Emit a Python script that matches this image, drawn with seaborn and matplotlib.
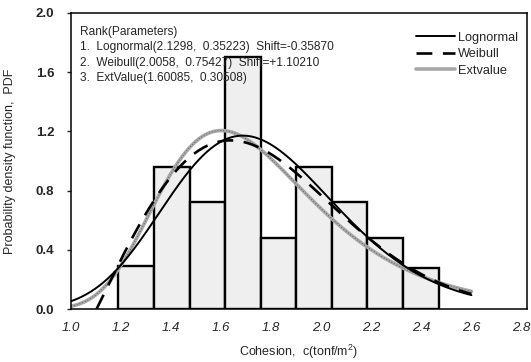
import numpy as np
import seaborn as sns
import matplotlib
matplotlib.use("Agg")
import matplotlib.pyplot as plt

# Histogram of cohesion (bin edges and density heights)
bin_edges = [1.1895, 1.3316, 1.4737, 1.6158, 1.7579, 1.9000, 2.0421, 2.1842, 2.3263, 2.4684]
bar_heights = [0.29, 0.96, 0.72, 1.70, 0.48, 0.96, 0.72, 0.48, 0.28]

# Fitted distribution parameters
logn_mean, logn_std, logn_shift = 2.1298, 0.35223, -0.35870
weib_shape, weib_scale, weib_shift = 2.0058, 0.75427, 1.10210
ev_loc, ev_scale = 1.60085, 0.30508
curve_end = 2.6

x_ticks = [1.0, 1.2, 1.4, 1.6, 1.8, 2.0, 2.2, 2.4, 2.6, 2.8]
y_ticks = [0.0, 0.4, 0.8, 1.2, 1.6, 2.0]

sns.set_style("ticks")
plt.rcParams["font.family"] = ["Liberation Sans", "DejaVu Sans"]
plt.rcParams["mathtext.fontset"] = "custom"
plt.rcParams["mathtext.rm"] = "Liberation Sans"

fig = plt.figure(figsize=(5.31, 3.62), dpi=100)
ax = fig.add_axes([0.1337, 0.1464, 0.8588, 0.8177])

centers = [(a + b) / 2 for a, b in zip(bin_edges[:-1], bin_edges[1:])]
sns.histplot(x=centers, weights=bar_heights, bins=bin_edges, stat="count",
             color="#efefef", edgecolor="black", linewidth=1.7, alpha=1.0, ax=ax)

# Lognormal (shifted)
x_ln = np.linspace(1.0, curve_end, 300)
sig2 = np.log(1 + (logn_std / logn_mean) ** 2)
sig = np.sqrt(sig2)
mu = np.log(logn_mean) - sig2 / 2
z = x_ln - logn_shift
pdf_ln = np.exp(-(np.log(z) - mu) ** 2 / (2 * sig2)) / (z * sig * np.sqrt(2 * np.pi))

# Weibull (shifted)
x_wb = np.linspace(weib_shift, curve_end, 300)
t = (x_wb - weib_shift) / weib_scale
pdf_wb = weib_shape / weib_scale * t ** (weib_shape - 1) * np.exp(-t ** weib_shape)

# Extreme value (Gumbel)
x_ev = np.linspace(1.0, curve_end, 300)
u = (x_ev - ev_loc) / ev_scale
pdf_ev = np.exp(-(u + np.exp(-u))) / ev_scale

sns.lineplot(x=x_ev, y=pdf_ev, color="#a8a8a8", linewidth=2.6, ax=ax, label="Extvalue")
ax.plot(x_ev, pdf_ev, color="#606060", linewidth=0.7, linestyle=(0, (1, 2)))
sns.lineplot(x=x_wb, y=pdf_wb, color="black", linewidth=1.9, ax=ax, label="Weibull")
ax.lines[-1].set_dashes((6, 4))
sns.lineplot(x=x_ln, y=pdf_ln, color="black", linewidth=1.4, ax=ax, label="Lognormal")

ax.set_xlim(1.0, 2.822)
ax.set_ylim(0.0, 2.0)
ax.set_xticks(x_ticks)
ax.set_xticklabels([f"{v:.1f}" for v in x_ticks], fontstyle="italic", fontsize=9.5)
ax.set_yticks(y_ticks)
ax.set_yticklabels([f"{v:.1f}" for v in y_ticks], fontsize=9.5, fontweight="bold")
ax.tick_params(axis="y", direction="out", length=3, width=1, pad=9)
ax.tick_params(axis="x", direction="in", length=0, pad=9)
for s in ax.spines.values():
    s.set_visible(True)
    s.set_color("black")
    s.set_linewidth(1.1)

ax.set_xlabel("Cohesion,  c(tonf/m$^2$)", fontsize=9, labelpad=7)
ax.set_ylabel("Probability density function,  PDF", fontsize=9, labelpad=14)

# Parameter annotation
lines_txt = ["Rank(Parameters)",
             f"1.  Lognormal({logn_mean:.4f},  {logn_std:.5f})  Shift={logn_shift:.5f}",
             f"2.  Weibull({weib_shape:.4f},  {weib_scale:.5f})  Shift=+{weib_shift:.5f}",
             f"3.  ExtValue({ev_loc:.5f},  {ev_scale:.5f})"]
for i, s in enumerate(lines_txt):
    ax.text(0.02, 0.955 - i * 0.051, s, transform=ax.transAxes, fontsize=8.6,
            va="top", ha="left")

handles, labels = ax.get_legend_handles_labels()
order = [labels.index("Lognormal"), labels.index("Weibull"), labels.index("Extvalue")]
leg = ax.legend([handles[i] for i in order], [labels[i] for i in order],
                loc="upper right", bbox_to_anchor=(1.005, 0.975), frameon=False,
                fontsize=9.2, handlelength=3.1, handletextpad=0.2, labelspacing=0.35)

fig.savefig("out.png", dpi=100)
